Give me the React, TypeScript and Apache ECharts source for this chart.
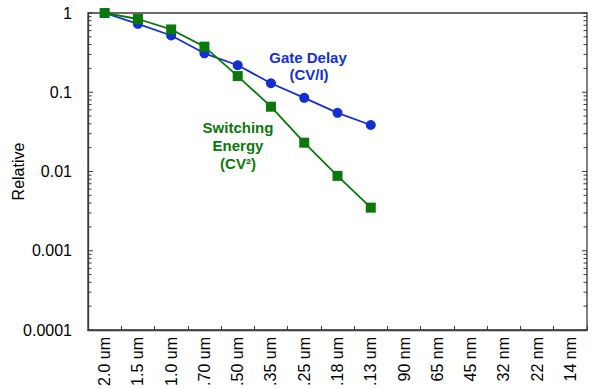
import React, { useEffect, useRef } from "react";
import * as echarts from "echarts";

const categories = [
  "2.0 um", "1.5 um", "1.0 um", ".70 um", ".50 um", ".35 um", ".25 um", ".18 um", ".13 um",
  "90 nm", "65 nm", "45 nm", "32 nm", "22 nm", "14 nm",
];
const gateDelay = [1, 0.73, 0.52, 0.31, 0.219, 0.13, 0.085, 0.055, 0.0386];
const switchingEnergy = [1, 0.84, 0.62, 0.376, 0.16, 0.0657, 0.0231, 0.0088, 0.0035];
const yTickLabels = ["0.0001", "0.001", "0.01", "0.1", "1"];
const minorTickValues: number[] = [];
for (let k = -4; k <= -1; k++) {
  for (let m = 1; m <= 9; m++) {
    minorTickValues.push(m * Math.pow(10, k));
  }
}
minorTickValues.push(1);

const BLUE = "#1430d0";
const GREEN = "#0a780a";
const AXIS = "#3a3a3a";
const FONT = "Liberation Sans, Arial, sans-serif";

export default function App() {
  const ref = useRef<HTMLDivElement>(null);
  useEffect(() => {
    if (!ref.current) return;
    const chart = echarts.init(ref.current, null, { renderer: "svg" });
    chart.setOption({
      animation: false,
      grid: {
        left: 88, right: 13, top: 13, bottom: 59,
        containLabel: false,
        outerBoundsMode: "none",
        show: true, borderColor: AXIS, borderWidth: 1.3, backgroundColor: "transparent",
      },
      xAxis: {
        type: "category",
        data: categories,
        boundaryGap: true,
        axisLine: { lineStyle: { color: AXIS, width: 1.3 } },
        axisTick: { show: true, inside: true, length: 4, alignWithLabel: false, interval: 0, lineStyle: { color: AXIS, width: 1 } },
        axisLabel: {
          rotate: 90, margin: 7, color: "#000", fontSize: 16, fontFamily: FONT, interval: 0,
        },
        splitLine: { show: false },
      },
      yAxis: {
        type: "log",
        logBase: 10,
        min: 0.0001,
        max: 1,
        name: "Relative",
        nameLocation: "middle",
        nameGap: 62,
        nameMoveOverlap: false,
        nameTextStyle: { color: "#000", fontSize: 16, fontFamily: FONT },
        axisLine: { show: true, lineStyle: { color: AXIS, width: 1.3 } },
        axisTick: { show: false },
        axisLabel: {
          margin: 16, color: "#000", fontSize: 16, fontFamily: FONT,
          formatter: (v: number) => {
            const idx = Math.round(Math.log10(v)) + 4;
            return yTickLabels[idx] ?? "";
          },
        },
        splitLine: { show: false },
      },
      series: [
        {
          type: "custom",
          coordinateSystem: "cartesian2d",
          data: minorTickValues.map((v) => [0, v]),
          encode: { x: 0, y: 1 },
          silent: true,
          clip: false,
          z: 5,
          renderItem: (params: any, api: any) => {
            const v = api.value(1);
            const p = api.coord([0, v]);
            const cs = params.coordSys;
            const lg = Math.log10(v);
            const major = Math.abs(lg - Math.round(lg)) < 1e-6;
            const len = major ? 5 : 3.5;
            const x0 = cs.x;
            const x1 = cs.x + cs.width;
            return {
              type: "group",
              children: [
                { type: "line", shape: { x1: x0, y1: p[1], x2: x0 + len, y2: p[1] }, style: { stroke: AXIS, lineWidth: 1, fill: null } },
                { type: "line", shape: { x1: x1, y1: p[1], x2: x1 - len, y2: p[1] }, style: { stroke: AXIS, lineWidth: 1, fill: null } },
              ],
            };
          },
        },
        {
          name: "Gate Delay",
          type: "line",
          data: gateDelay,
          symbol: "circle",
          symbolSize: 10,
          lineStyle: { color: BLUE, width: 1.8 },
          itemStyle: { color: BLUE },
          z: 3,
        },
        {
          name: "Switching Energy",
          type: "line",
          data: switchingEnergy,
          symbol: "rect",
          symbolSize: 10,
          lineStyle: { color: GREEN, width: 1.8 },
          itemStyle: { color: GREEN },
          z: 4,
        },
      ],
      graphic: [
        {
          type: "text", x: 308, y: 57,
          style: {
            text: "Gate Delay", fill: BLUE, font: `bold 15px ${FONT}`,
            textAlign: "center", textVerticalAlign: "middle",
          },
        },
        {
          type: "text", x: 309, y: 74,
          style: {
            text: "(CV/I)", fill: BLUE, font: `bold 15px ${FONT}`,
            textAlign: "center", textVerticalAlign: "middle",
          },
        },
        {
          type: "text", x: 238, y: 127,
          style: {
            text: "Switching", fill: GREEN, font: `bold 15px ${FONT}`,
            textAlign: "center", textVerticalAlign: "middle",
          },
        },
        {
          type: "text", x: 238, y: 145,
          style: {
            text: "Energy", fill: GREEN, font: `bold 15px ${FONT}`,
            textAlign: "center", textVerticalAlign: "middle",
          },
        },
        {
          type: "text", x: 238, y: 163,
          style: {
            text: "(CV²)", fill: GREEN, font: `bold 15px ${FONT}`,
            textAlign: "center", textVerticalAlign: "middle",
          },
        },
      ],
    });
    return () => chart.dispose();
  }, []);
  return <div ref={ref} style={{ width: 600, height: 389, position: "absolute", left: 0, top: 0 }} />;
}
